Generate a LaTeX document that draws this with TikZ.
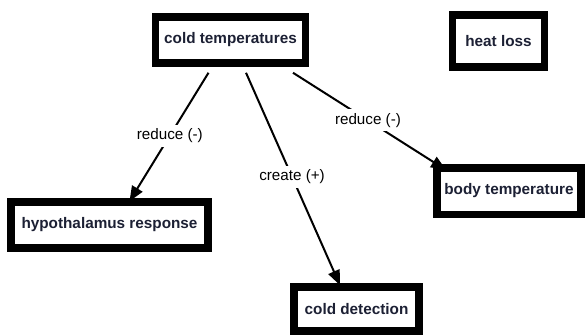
\documentclass[tikz,border=0pt]{standalone}
\usepackage{fontspec}
\setmainfont{Liberation Sans}
\usetikzlibrary{arrows.meta}
\definecolor{ink}{RGB}{28,32,52}
\tikzset{
  concept/.style={draw=black, line width=7.5pt, fill=white, inner sep=0pt,
    font=\fontsize{15.3}{17}\selectfont\bfseries, text=ink},
  link/.style={line width=2pt, -{Triangle[length=15pt,width=12pt]}},
  linklabel/.style={fill=white, inner sep=4pt, pos=0.49,
    font=\fontsize{15.2}{17}\selectfont, text=black}
}
\begin{document}
\begin{tikzpicture}[x=1pt,y=-1pt]
\useasboundingbox (0,0) rectangle (585,335);
\fill[white] (0,0) rectangle (585,335);

% concept boxes
\node[concept, minimum width=150pt, minimum height=46pt] (cold) at (230.5,40) {cold temperatures};
\node[concept, minimum width=92pt, minimum height=52pt] (heat) at (498.5,41) {heat loss};
\node[concept, minimum width=197pt, minimum height=46pt] (hypo) at (109.5,225) {hypothalamus response};
\node[concept, minimum width=144pt, minimum height=46.5pt] (body) at (509,191) {body temperature};
\node[concept, minimum width=125pt, minimum height=44pt] (detect) at (356.5,309) {cold detection};

% labelled links
\draw[link] ([xshift=-22pt,yshift=-6pt]cold.south) -- node[linklabel] {reduce (-)} ([xshift=20pt,yshift=-3pt]hypo.north);
\draw[link] ([xshift=15.5pt,yshift=-6pt]cold.south) -- node[linklabel] {create (+)} ([xshift=-16.5pt,yshift=-2pt]detect.north);
\draw[link] ([xshift=62.5pt,yshift=-6pt]cold.south) -- node[linklabel] {reduce (-)} ([xshift=-63pt,yshift=-6pt]body.north);
\end{tikzpicture}
\end{document}
